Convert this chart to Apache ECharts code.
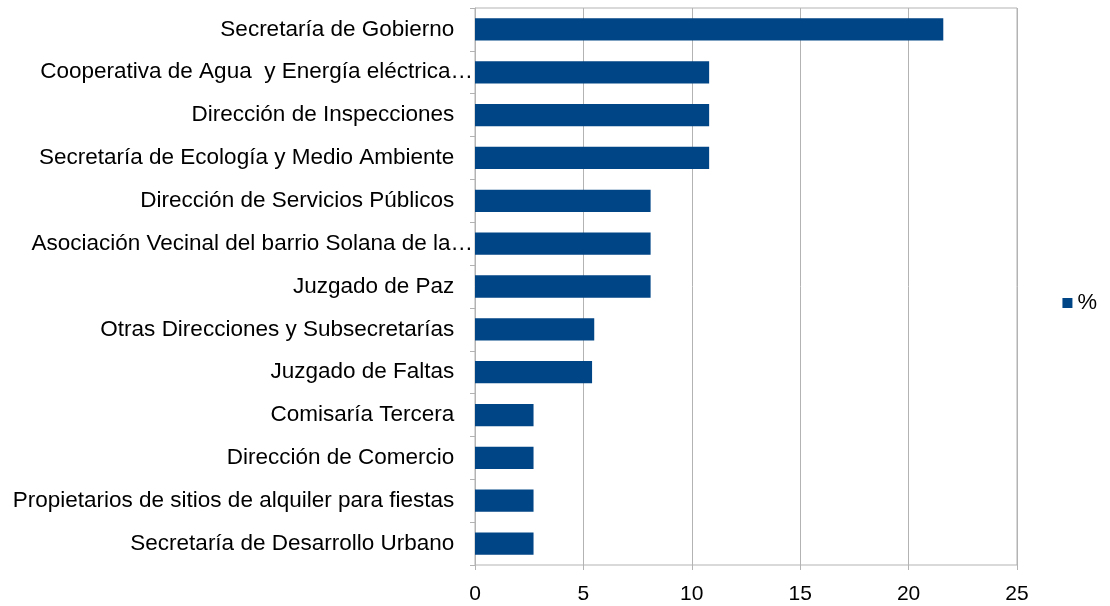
<!DOCTYPE html>
<html>
<head>
<meta charset="utf-8">
<script src="https://cdn.jsdelivr.net/npm/echarts@6/dist/echarts.min.js"></script>
<style>
  html, body { margin: 0; padding: 0; background: #fff; }
  #chart { width: 1110px; height: 606px; }
</style>
</head>
<body>
<div id="chart"></div>
<script>
// categories, top to bottom
const categories = [
  'Secretaría de Gobierno',
  'Cooperativa de Agua  y Energía eléctrica…',
  'Dirección de Inspecciones',
  'Secretaría de Ecología y Medio Ambiente',
  'Dirección de Servicios Públicos',
  'Asociación Vecinal del barrio Solana de la…',
  'Juzgado de Paz',
  'Otras Direcciones y Subsecretarías',
  'Juzgado de Faltas',
  'Comisaría Tercera',
  'Dirección de Comercio',
  'Propietarios de sitios de alquiler para fiestas',
  'Secretaría de Desarrollo Urbano'
];
const percentValues = [21.6, 10.8, 10.8, 10.8, 8.1, 8.1, 8.1, 5.5, 5.4, 2.7, 2.7, 2.7, 2.7];
const seriesName = '%';

const font = 'Liberation Sans, Arial, sans-serif';
const myChart = echarts.init(document.getElementById('chart'));
myChart.setOption({
  animation: false,
  grid: {
    left: 475,
    right: 93,
    top: 8,
    bottom: 41,
    show: true,
    borderColor: '#b3b3b3',
    borderWidth: 1
  },
  legend: {
    right: 8,
    top: 'middle',
    itemWidth: 10,
    itemHeight: 10,
    itemGap: 8,
    icon: 'rect',
    textStyle: { color: '#000', fontSize: 22, fontFamily: font },
    data: [seriesName]
  },
  xAxis: {
    type: 'value',
    min: 0,
    max: 25,
    interval: 5,
    axisLine: { show: false },
    axisTick: { show: true, length: 5, lineStyle: { color: '#b3b3b3' } },
    splitLine: { show: true, lineStyle: { color: '#b3b3b3' } },
    axisLabel: { color: '#000', fontSize: 21, fontFamily: font, margin: 19 }
  },
  yAxis: {
    type: 'category',
    inverse: true,
    data: categories,
    axisLine: { show: true, lineStyle: { color: '#b3b3b3' } },
    axisTick: { show: true, length: 5, lineStyle: { color: '#b3b3b3' } },
    axisLabel: {
      color: '#000',
      fontSize: 22.5,
      fontFamily: font,
      margin: 2,
      formatter: function (v) {
        return v.endsWith('…') ? v : v + '   ';
      }
    }
  },
  series: [{
    name: seriesName,
    type: 'bar',
    data: percentValues,
    barCategoryGap: '48%',
    itemStyle: { color: '#004586' }
  }]
});
</script>
</body>
</html>
